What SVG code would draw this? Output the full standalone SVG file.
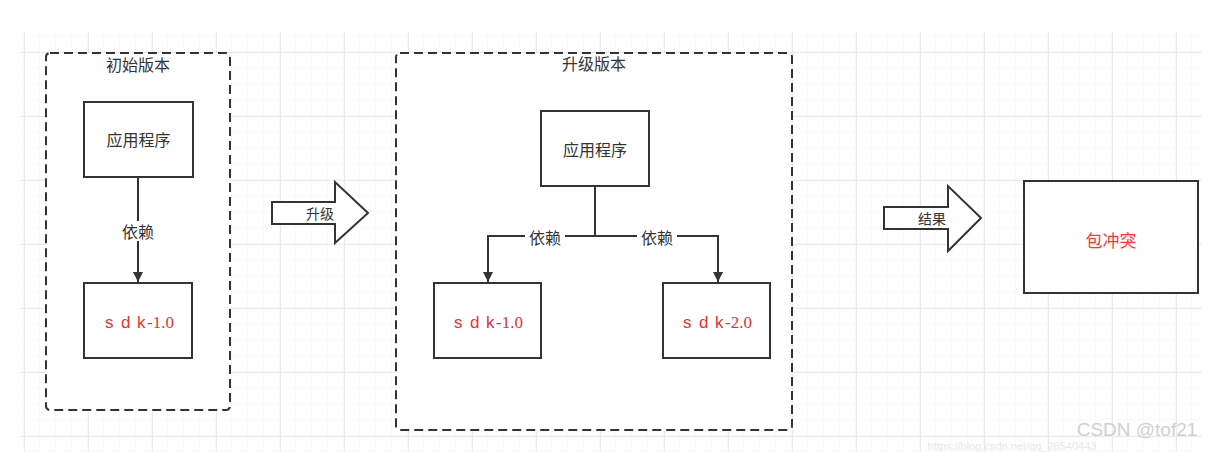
<svg xmlns="http://www.w3.org/2000/svg" width="1213" height="452" viewBox="0 0 1213 452">
<defs>
<pattern id="minor" x="8" y="4" width="16" height="16" patternUnits="userSpaceOnUse">
<path d="M16 0V16M0 16H16" fill="none" stroke="#f4f4f4" stroke-width="1"/>
</pattern>
<pattern id="major" x="24" y="52" width="64" height="64" patternUnits="userSpaceOnUse">
<path d="M0.5 0V64M0 0.5H64" fill="none" stroke="#eaeaea" stroke-width="1"/>
</pattern>
<marker id="arr" viewBox="0 0 10 10" refX="10" refY="5" markerWidth="10" markerHeight="10" markerUnits="userSpaceOnUse" orient="auto">
<path d="M0 0L10 5L0 10Z" fill="#333"/>
</marker>
<style>
.t{font-family:"Noto Sans CJK SC","Noto Sans",sans-serif;font-size:16px;fill:#333;text-anchor:middle;dominant-baseline:central}
.box{fill:#fff;stroke:#333;stroke-width:2}
.grp{fill:#fff;stroke:#333;stroke-width:2;stroke-dasharray:9 5}
.ln{fill:none;stroke:#333;stroke-width:2}
.lbl{fill:#fff}
.sdk{font-family:"Liberation Sans",sans-serif;font-size:17px;fill:#e8302f;dominant-baseline:central}
.ver{font-family:"Liberation Serif",serif;font-size:17px}
.small{font-size:14px}
</style>
</defs>
<rect width="1213" height="452" fill="#fff"/>
<rect x="20" y="32" width="1182" height="420" fill="url(#minor)"/>
<rect x="20" y="32" width="1182" height="420" fill="url(#major)"/>

<g id="group-initial">
<rect class="grp" x="46" y="53" width="184" height="357" rx="4"/>
<text class="t" x="138" y="64">初始版本</text>
</g>
<g id="group-upgrade">
<rect class="grp" x="396" y="53" width="396" height="377" rx="4"/>
<text class="t" x="594" y="63">升级版本</text>
</g>

<g id="connectors">
<path class="ln" d="M138 177V282" marker-end="url(#arr)"/>
<rect class="lbl" x="118" y="221" width="40" height="20"/>
<text class="t" x="138" y="231">依赖</text>
<path class="ln" d="M595 186V236H488V282" marker-end="url(#arr)"/>
<path class="ln" d="M595 236H718V282" marker-end="url(#arr)"/>
<rect class="lbl" x="525" y="227" width="40" height="20"/>
<text class="t" x="545" y="237">依赖</text>
<rect class="lbl" x="637" y="227" width="40" height="20"/>
<text class="t" x="657" y="237">依赖</text>
</g>

<g id="app1">
<rect class="box" x="84" y="102" width="109" height="75"/>
<text class="t" x="138.5" y="139">应用程序</text>
</g>
<g id="sdk1">
<rect class="box" x="84" y="283" width="108" height="75"/>
<text class="sdk" y="322"><tspan x="105">s</tspan><tspan x="121">d</tspan><tspan x="137">k</tspan><tspan x="147" class="ver">-1.0</tspan></text>
</g>

<g id="arrow-upgrade">
<path d="M272 202H335V182L368 213L335 243V224H272Z" fill="#fff" stroke="#333" stroke-width="2"/>
<text class="t small" x="320" y="213">升级</text>
</g>

<g id="app2">
<rect class="box" x="541" y="111" width="108" height="75"/>
<text class="t" x="595" y="149">应用程序</text>
</g>
<g id="sdk1b">
<rect class="box" x="434" y="283" width="107" height="75"/>
<text class="sdk" y="322"><tspan x="454">s</tspan><tspan x="470">d</tspan><tspan x="486">k</tspan><tspan x="496" class="ver">-1.0</tspan></text>
</g>
<g id="sdk2">
<rect class="box" x="663" y="283" width="107" height="75"/>
<text class="sdk" y="322"><tspan x="683">s</tspan><tspan x="699">d</tspan><tspan x="715">k</tspan><tspan x="725" class="ver">-2.0</tspan></text>
</g>

<g id="arrow-result">
<path d="M884 207H948V186L981 218L948 251V229H884Z" fill="#fff" stroke="#333" stroke-width="2"/>
<text class="t small" x="932" y="218">结果</text>
</g>

<g id="conflict">
<rect class="box" x="1024" y="181" width="174" height="112"/>
<text class="t" x="1111" y="239" style="fill:#ff3333;font-size:17px">包冲突</text>
</g>

<text x="1012" y="450" style="font-family:'Liberation Sans',sans-serif;font-size:11px;fill:#e8e8e8" text-anchor="middle">https://blog.csdn.net/qq_28540443</text>
<text x="1137" y="436" style="font-family:'Liberation Sans',sans-serif;font-size:19px;fill:#d0d0d0" text-anchor="middle">CSDN @tof21</text>
</svg>
